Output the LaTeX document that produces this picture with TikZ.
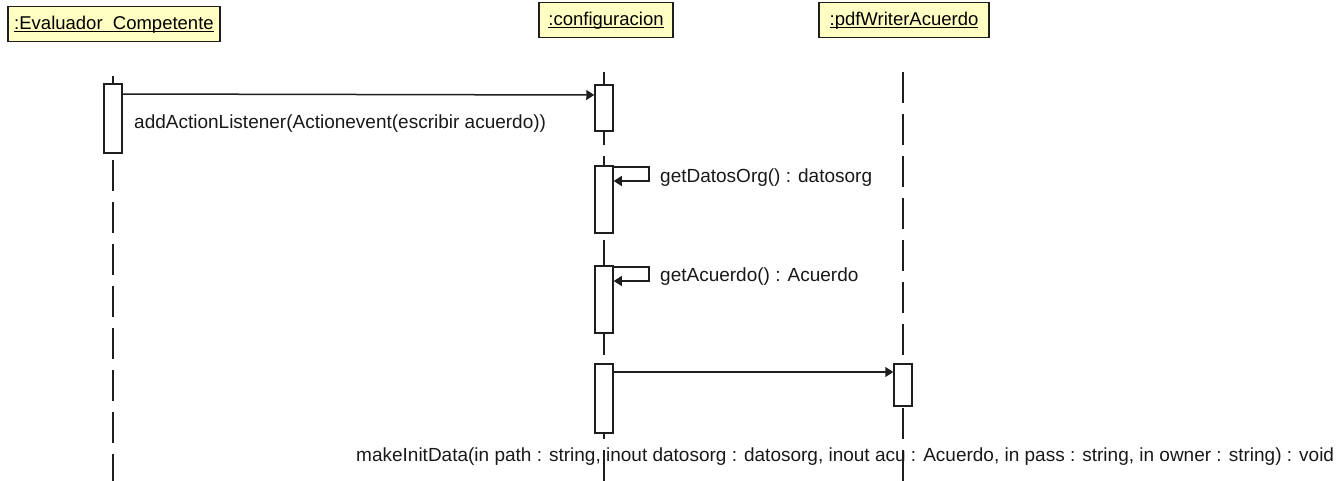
\documentclass[tikz,border=0pt]{standalone}
\usepackage{fontspec}
\setmainfont{Liberation Sans}
\usetikzlibrary{arrows.meta}

\definecolor{headfill}{RGB}{255,255,196}
\definecolor{inkline}{RGB}{30,30,30}

% underline sitting just under the baseline (descenders cross it)
\newcommand\objname[1]{\underline{\vphantom{A}\smash{#1}}}

\tikzset{
  head/.style={draw=inkline, line width=1.6pt, fill=headfill, inner sep=0pt,
               minimum height=35pt, font=\fontsize{18.5}{20}\selectfont},
  lifeline/.style={draw=inkline, line width=1.5pt, dash pattern=on 31pt off 11pt},
  act/.style={draw=inkline, line width=1.5pt, fill=white, minimum width=18pt,
              inner sep=0pt, anchor=north},
  msg/.style={draw=inkline, line width=1.5pt, -{Triangle[length=8pt,width=10pt]}},
  lbl/.style={inner sep=0pt, anchor=base west, font=\fontsize{19}{21}\selectfont, text=black!90}
}

\begin{document}
\begin{tikzpicture}[x=1pt, y=-1pt]
  \useasboundingbox (0,0) rectangle (1341,480);

  % object heads
  \node[head, minimum width=212pt] (eval) at (114,24) {\objname{:Evaluador\ \ Competente}};
  \node[head, minimum width=134pt] (conf) at (606,20) {\objname{:configuracion}};
  \node[head, minimum width=170pt] (pdf)  at (904,20) {\objname{:pdfWriterAcuerdo}};

  % lifelines
  \coordinate (evalTop) at (113,76);  \coordinate (evalEnd) at (113,481);
  \coordinate (confTop) at (604,72);  \coordinate (confEnd) at (604,481);
  \coordinate (pdfTop)  at (903,72);  \coordinate (pdfEnd)  at (903,481);
  \draw[lifeline] (evalTop) -- (evalEnd);
  \draw[lifeline] (confTop) -- (confEnd);
  \draw[lifeline] (pdfTop) -- (pdfEnd);

  % activation bars
  \node[act, minimum height=69pt] (e1) at (113,83) {};
  \node[act, minimum height=46pt] (c1) at (604,84) {};
  \node[act, minimum height=67pt] (c2) at (604,165) {};
  \node[act, minimum height=67pt] (c3) at (604,265) {};
  \node[act, minimum height=69pt] (c4) at (604,363) {};
  \node[act, minimum height=42pt] (p1) at (903,363) {};

  % messages
  \draw[msg] ([yshift=-11pt]e1.north east) -- ([yshift=-11pt]c1.north west);
  \node[lbl] (m1) at (134,128) {addActionListener(Actionevent(escribir acuerdo))};

  \draw[msg] ([yshift=-2pt]c2.north east) -- ++(35,0) -- ++(0,14)
             -- ([yshift=-16pt]c2.north east);
  \node[lbl] (m2) at (660,182) {getDatosOrg() : datosorg};

  \draw[msg] ([yshift=-2pt]c3.north east) -- ++(35,0) -- ++(0,14)
             -- ([yshift=-16pt]c3.north east);
  \node[lbl] (m3) at (660,281) {getAcuerdo() : Acuerdo};

  \draw[msg] ([yshift=-9pt]c4.north east) -- ([yshift=-9pt]p1.north west);
  \node[lbl] (m4) at (356,461) {makeInitData(in path : string, inout datosorg : datosorg, inout acu : Acuerdo, in pass : string, in owner : string) : void};
\end{tikzpicture}
\end{document}
